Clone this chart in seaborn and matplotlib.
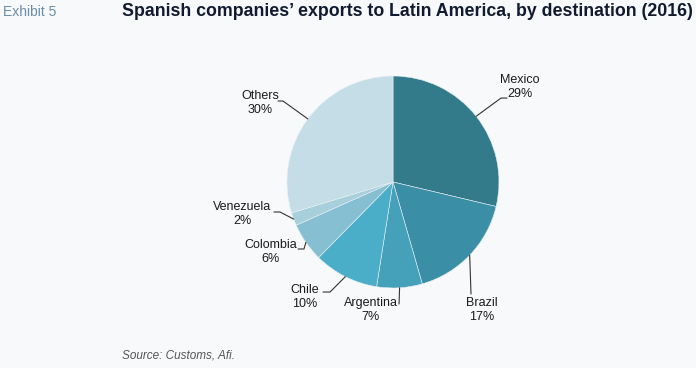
import numpy as np
import matplotlib
matplotlib.use("Agg")
import matplotlib.pyplot as plt
import seaborn as sns

# data
countries = ["Mexico", "Brazil", "Argentina", "Chile", "Colombia", "Venezuela", "Others"]
shares = [29, 17, 7, 10, 6, 2, 30]
colors = ["#337a8b", "#3a8ea5", "#45a1b9", "#4aaec8", "#86bfd1", "#a7d0dc", "#c4dde7"]

# label layout in pie units: leader line points after the wedge edge, then text centre
label_pos = {
    "Mexico":    ([(1.019, 0.792), (1.075, 0.792)], (1.198, 0.896)),
    "Brazil":    ([(0.736, -1.057)], (0.840, -1.208)),
    "Argentina": ([(0.057, -1.151)], (-0.208, -1.208)),
    "Chile":     ([(-0.594, -1.038), (-0.660, -1.038)], (-0.830, -1.085)),
    "Colombia":  ([(-0.840, -0.632), (-0.896, -0.632)], (-1.151, -0.660)),
    "Venezuela": ([(-1.066, -0.283), (-1.123, -0.283)], (-1.425, -0.302)),
    "Others":    ([(-1.038, 0.764), (-1.085, 0.764)], (-1.255, 0.745)),
}

sns.set_theme(style="white")
plt.rcParams["font.family"] = ["Liberation Sans", "DejaVu Sans"]
bg = "#f7f9fb"

fig = plt.figure(figsize=(6.96, 3.68), dpi=100, facecolor=bg)
R = 106
ax = fig.add_axes([(393 - R) / 696, 1 - (182 + R) / 368, 2 * R / 696, 2 * R / 368])
ax.set_facecolor(bg)

wedges, _ = ax.pie(shares, colors=colors, startangle=90, counterclock=False,
                   radius=1, wedgeprops=dict(linewidth=0.4, edgecolor="#e8f0f3"))
ax.set_xlim(-1, 1)
ax.set_ylim(-1, 1)
ax.set_aspect("equal")
ax.axis("off")

for w, name, val in zip(wedges, countries, shares):
    mid = np.deg2rad((w.theta1 + w.theta2) / 2)
    pts, (tx, ty) = label_pos[name]
    xs = [np.cos(mid)] + [p[0] for p in pts]
    ys = [np.sin(mid)] + [p[1] for p in pts]
    ax.plot(xs, ys, color="#333333", lw=0.8, clip_on=False)
    ax.text(tx, ty, f"{name}\n{val}%", ha="center", va="center", fontsize=9,
            color="#1a1a1a", linespacing=1.3, clip_on=False)

fig.text(3 / 696, 1 - 12 / 368, "Exhibit 5", fontsize=10, color="#6a8ca8",
         ha="left", va="center")
fig.text(122 / 696, 1 - 12 / 368,
         "Spanish companies\u2019 exports to Latin America, by destination (2016)",
         fontsize=12.8, fontweight="bold", color="#101a30", ha="left", va="center")
fig.text(122 / 696, 1 - 356 / 368, "Source: Customs, Afi.", fontsize=8.5,
         style="italic", color="#555555", ha="left", va="center")

fig.savefig("out.png", dpi=100, facecolor=bg)
